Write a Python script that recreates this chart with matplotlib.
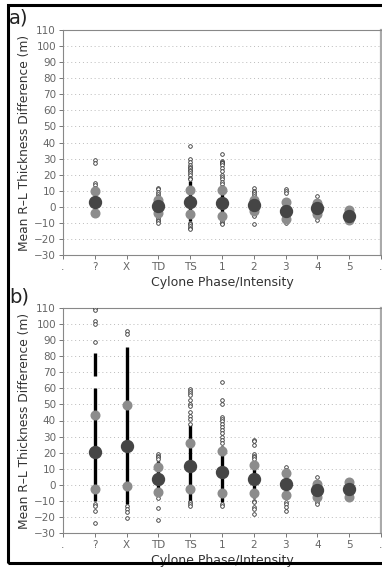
import numpy as np
import matplotlib
matplotlib.use("Agg")
import matplotlib.pyplot as plt
from matplotlib.patches import Rectangle

cats = ['?', 'X', 'TD', 'TS', '1', '2', '3', '4', '5']
tick_labels = ['.'] + cats + ['.']

# panel a) -- X has no cases
a_mean = [3, np.nan, 0.5, 3, 2.5, 1, -2.5, -1, -5.5]
a_upper = [10, np.nan, 4.5, 10.4, 10.4, 4.2, 3, 2.5, -2]
a_lower = [-4, np.nan, -3.7, -4.7, -5.7, -2.4, -7.4, -4.5, -8.2]
a_dense_lo = [-4, np.nan, -5, -9, -8, -5, -9, -7, -8]
a_dense_hi = [10, np.nan, 5, 16, 11, 7, 5, 4, -2]
a_points = [
    [29, 27.5, 15, 13.5, 12],
    [],
    [12, 11, 9.5, 8, 7, 6, -6, -7, -8, -9, -10],
    [38, 30, 28, 26, 25, 24, 23, 22, 21, 20, 18, 17, -10, -11, -12, -13, -14],
    [33, 28.5, 28, 27.5, 27, 26, 24, 22, 20, 18.5, 17, 15.5, 14, 12.5, -9, -10, -11],
    [11.5, 10, 9, 8, 7, -5, -6, -11],
    [11, 10, 8.5, -9, -10],
    [6.5, -8],
    [],
]

# panel b)
b_mean = [20.4, 24, 3.4, 11.7, 7.8, 3.4, 0.5, -3.2, -2.8]
b_upper = [43.4, 49.4, 11.3, 25.8, 21.2, 12.1, 7.1, 0.5, 1.9]
b_lower = [-2.4, -0.8, -4.3, -2.4, -5.1, -5.2, -6.2, -7.4, -7.4]
b_dense_lo = [-10, -12, -6, -10, -11, -8, -8, -9, -7]
b_dense_hi = [60, 86, 15, 37, 24, 15, 8, 3, 2]
b_dense2_lo = [68, np.nan, np.nan, np.nan, np.nan, np.nan, np.nan, np.nan, np.nan]
b_dense2_hi = [82, np.nan, np.nan, np.nan, np.nan, np.nan, np.nan, np.nan, np.nan]
b_points = [
    [110, 108.5, 102, 100, 89, -12, -13, -16, -24],
    [96, 94, -13, -15, -17, -20.5],
    [19, 18, 17, 16, -8, -14.5, -22],
    [59.5, 58.5, 57, 56, 53, 50, 49, 45, 43, 41, 38, -11, -12, -13],
    [64, 53, 50, 42, 41, 40, 38, 36, 34, 32, 30, 28, 26, -12, -13],
    [28, 27, 25, 19, 18, 17, 16, -10, -11, -14, -15, -18],
    [11, 9, -10.5, -12, -14, -16],
    [5, -11, -12],
    [3],
]

W, H = 382, 567
fig = plt.figure(figsize=(W / 100, H / 100), dpi=100)

# black frame round the whole figure
fig.add_artist(Rectangle((8 / W, 1 - 563 / H), 1.0, (563 - 5) / H, fill=False,
                         lw=2.2, ec='black', transform=fig.transFigure, clip_on=False))


def draw_panel(ax, mean, upper, lower, lo, hi, points, lo2=None, hi2=None):
    xs = np.arange(1, len(cats) + 1)
    ax.set_xlim(0, 10)
    ax.set_ylim(-30, 110)
    for y in range(-20, 110, 10):
        ax.axhline(y, color='#bbbbbb', ls=(0, (1, 3)), lw=0.7, zorder=0)
    ax.vlines(xs, lo, hi, color='black', lw=2.4, zorder=2)
    if lo2 is not None:
        ax.vlines(xs, lo2, hi2, color='black', lw=2.4, zorder=2)
    for x, pts in zip(xs, points):
        ax.plot([x] * len(pts), pts, 'o', ms=2.6, mfc='white', mec='#333333',
                mew=0.6, ls='none', zorder=3)
    ax.plot(xs, upper, 'o', ms=6.2, color='#8c8c8c', ls='none', zorder=4)
    ax.plot(xs, lower, 'o', ms=6.2, color='#8c8c8c', ls='none', zorder=4)
    ax.plot(xs, mean, 'o', ms=8.6, color='#454545', ls='none', zorder=5)

    ax.set_xticks(range(11))
    ax.set_xticklabels(tick_labels)
    ax.set_yticks(range(-30, 111, 10))
    ax.tick_params(direction='out', length=3, width=0.7, colors='#777777',
                   labelcolor='#666666', labelsize=7.5, pad=2)
    for s in ax.spines.values():
        s.set_color('#888888')
        s.set_linewidth(0.8)
    ax.spines['right'].set_linewidth(1.6)
    ax.spines['right'].set_color('#aaaaaa')
    ax.set_xlabel('Cylone Phase/Intensity', fontsize=9, color='#333333', labelpad=3)
    ax.set_ylabel('Mean R\u2013L Thickness Difference (m)', fontsize=8.8,
                  color='#333333', labelpad=2)


left = 63 / W
width = 318 / W
ax_a = fig.add_axes([left, 1 - 255 / H, width, 225 / H])
ax_b = fig.add_axes([left, 1 - 533 / H, width, 225 / H])

draw_panel(ax_a, a_mean, a_upper, a_lower, a_dense_lo, a_dense_hi, a_points)
draw_panel(ax_b, b_mean, b_upper, b_lower, b_dense_lo, b_dense_hi, b_points,
           b_dense2_lo, b_dense2_hi)

fig.text(9 / W, 1 - 18 / H, 'a)', fontsize=14, color='#222222', va='center', ha='left')
fig.text(9 / W, 1 - 297 / H, 'b)', fontsize=14, color='#222222', va='center', ha='left')

fig.savefig('out.png', dpi=100)
